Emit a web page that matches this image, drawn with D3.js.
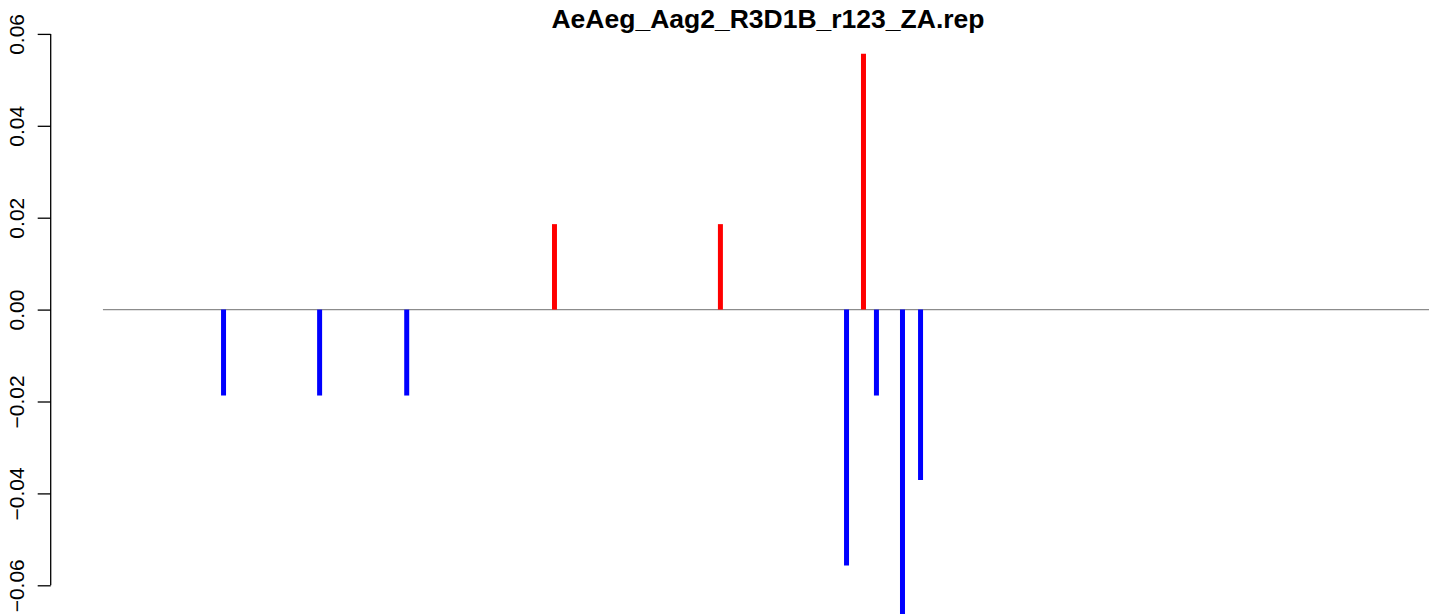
<!DOCTYPE html>
<html>
<head>
<meta charset="utf-8">
<script src="https://cdn.jsdelivr.net/npm/d3@7"></script>
<style>
  html, body { margin: 0; padding: 0; background: #fff; }
  svg { display: block; }
  text { font-family: "Liberation Sans", Arial, Helvetica, sans-serif; }
</style>
</head>
<body>
<svg id="chart" width="1429" height="614"></svg>
<script>
// ---- data ----
const title = "AeAeg_Aag2_R3D1B_r123_ZA.rep";
const positions = [125.4, 195.1, 258.3, 365.5, 485.9, 577.4, 589.7, 599.1, 618.0, 631.1];
const values    = [-0.0187, -0.0187, -0.0187, 0.0186, 0.0186, -0.0557, 0.0557, -0.0187, -0.0743, -0.0371];
const baselineStart = 37.9;
const baselineEnd = 1000;
const xDomain = [0, 1000];
const yTicks = [-0.06, -0.04, -0.02, 0.00, 0.02, 0.04, 0.06];
const yTickLabels = ["\u22120.06", "\u22120.04", "\u22120.02", "0.00", "0.02", "0.04", "0.06"];

// ---- layout ----
const W = 1429, H = 614;
const mLeft = 50.7, mRight = 1429, mTop = 0, mBottom = 614;

const svg = d3.select("#chart");

const x = d3.scaleLinear().domain(xDomain).range([mLeft, mRight]);
const y = d3.scaleLinear().domain([-0.06, 0.06]).range([585.3, 33.9]);

svg.append("defs").append("clipPath").attr("id", "plotclip")
  .append("rect").attr("x", mLeft).attr("y", mTop).attr("width", mRight - mLeft).attr("height", mBottom - mTop);

const plot = svg.append("g").attr("clip-path", "url(#plotclip)");

// zero line
plot.append("line")
  .attr("x1", x(baselineStart)).attr("x2", x(baselineEnd))
  .attr("y1", y(0)).attr("y2", y(0))
  .attr("stroke", "#8c8c8c").attr("stroke-width", 1.3);

// bars
plot.selectAll("line.bar")
  .data(positions.map((p, i) => ({ p, v: values[i] })))
  .enter().append("line")
  .attr("class", "bar")
  .attr("x1", d => x(d.p)).attr("x2", d => x(d.p))
  .attr("y1", y(0)).attr("y2", d => y(d.v))
  .attr("stroke", d => d.v >= 0 ? "#ff0000" : "#0000ff")
  .attr("stroke-width", 5);

// y axis
const axis = d3.axisLeft(y)
  .tickValues(yTicks)
  .tickFormat((d, i) => yTickLabels[i])
  .tickSize(13)
  .tickSizeOuter(0);

const gAxis = svg.append("g").attr("transform", `translate(${mLeft},0)`).call(axis);
gAxis.select(".domain").attr("stroke", "#000").attr("stroke-width", 1.3)
  .attr("d", `M0,${y(-0.06)}V${y(0.06)}`);
gAxis.selectAll(".tick line").attr("stroke", "#000").attr("stroke-width", 1.3);
gAxis.selectAll(".tick text")
  .attr("font-size", 21)
  .attr("fill", "#000")
  .attr("text-anchor", "middle")
  .attr("dy", 0)
  .attr("x", 0)
  .attr("y", 0)
  .attr("transform", `translate(${23.5 - mLeft},0) rotate(-90)`);

// title
svg.append("text")
  .attr("x", 768).attr("y", 27.5)
  .attr("text-anchor", "middle")
  .attr("font-size", 26.5)
  .attr("font-weight", "bold")
  .attr("fill", "#000")
  .text(title);
</script>
</body>
</html>
